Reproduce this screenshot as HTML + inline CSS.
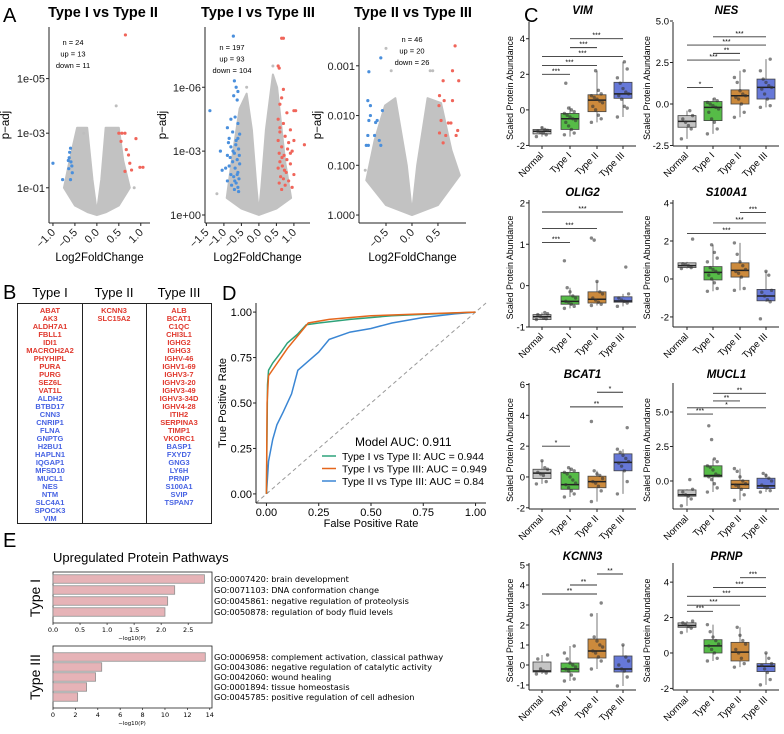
<!DOCTYPE html>
<html><head><meta charset="utf-8"><style>
html,body{margin:0;padding:0;background:#fff;}
svg{display:block;font-family:"Liberation Sans",sans-serif;}
</style></head><body>
<svg id="fig" xmlns="http://www.w3.org/2000/svg" width="784" height="734" viewBox="0 0 784 734">
<g id="panelA"></g>
<g id="panelB"></g>
<g id="panelC"></g>
<g id="panelD"></g>
<g id="panelE"></g>
</svg>
<script>
// ---------- DATA ----------
const volTitles = ["Type I vs Type II","Type I vs Type III","Type II vs Type III"];
const volCounts = [["n = 24","up = 13","down = 11"],["n = 197","up = 93","down = 104"],["n = 46","up = 20","down = 26"]];
const volXTicks = [[-1.0,-0.5,0.0,0.5,1.0],[-1.5,-1.0,-0.5,0.0,0.5,1.0],[-0.5,0.0,0.5]];
const volYTickVals = [[5,3,1],[6,3,0],[3,2,1,0]];
const volYTickLabels = [["1e-05","1e-03","1e-01"],["1e-06","1e-03","1e+00"],["0.001","0.010","0.100","1.000"]];
const volCloud1 = [[-0.75,1.0],[-0.62,2.0],[-0.45,3.2],[-0.22,3.2],[-0.1,1.3],[0,0.1],[0.1,1.3],[0.2,3.2],[0.5,3.2],[0.6,2.0],[0.75,1.0],[0.5,0.35],[0.2,0.1],[0,0],[-0.2,0.1],[-0.5,0.35]];
const volCloud2 = [[-0.92,0.8],[-0.78,2.5],[-0.55,5.0],[-0.35,5.7],[-0.2,4.0],[-0.07,1.3],[0,0.1],[0.07,1.3],[0.2,4.0],[0.4,6.6],[0.52,6.0],[0.75,2.5],[0.92,0.8],[0.5,0.3],[0,0],[-0.5,0.3]];
const volCloud3 = [[-0.88,0.7],[-0.72,1.5],[-0.52,2.2],[-0.32,2.35],[-0.1,1.0],[0,0.05],[0.1,1.0],[0.3,2.35],[0.56,2.25],[0.76,1.3],[0.92,0.8],[0.5,0.2],[0,0],[-0.5,0.2]];
const volGrey1 = [[0.44,4.0],[0.85,1.0],[-0.3,3.0]];
const volGrey2 = [[-0.35,6.0],[0.4,7.0],[-1.2,1.0]];
const volGrey3 = [[-0.5,3.35],[-0.4,2.9],[0.4,2.9],[0.35,2.9],[-0.9,0.9]];
const volBlue1 = [[-1.0,1.9],[-0.6,2.45],[-0.62,2.3],[-0.64,1.7],[-0.59,1.95],[-0.78,1.3],[-0.6,1.3],[-0.56,1.55],[-0.63,2.1],[-0.57,1.8],[-0.65,2.0]];
const volRed1 = [[0.65,6.6],[0.57,3.0],[0.64,3.0],[0.89,2.8],[0.67,2.4],[0.75,1.9],[0.64,1.6],[0.98,1.75],[1.05,1.75],[0.79,1.65],[0.55,2.7],[0.5,3.0],[0.72,2.2]];
const volBlue2 = [[-1.4,4.9],[-0.73,8.4],[-1.1,3.0],[-1.05,2.1],[-0.7,6.3],[-0.65,6.0],[-0.6,5.8],[-0.72,5.6],[-0.62,5.4],[-0.8,4.5],[-0.68,4.6],[-0.6,4.3],[-0.9,4.1],[-0.75,3.9],[-0.55,3.8],[-0.85,3.6],[-0.65,3.5],[-0.8,3.2],[-0.58,3.1],[-0.7,2.9],[-0.9,2.8],[-0.62,2.6],[-0.75,2.5],[-0.55,2.4],[-0.85,2.3],[-0.68,2.2],[-0.6,2.0],[-0.8,1.9],[-0.72,1.8],[-0.57,1.7],[-0.9,1.6],[-0.65,1.5],[-0.78,1.4],[-0.6,1.3],[-0.7,1.2],[-0.58,1.1],[-0.82,2.7],[-0.66,3.3],[-0.95,2.2],[-0.62,1.9],[-0.74,3.0],[-0.56,2.8],[-0.69,1.6],[-0.87,3.4],[-0.6,3.6]];
const volRed2 = [[0.7,8.3],[0.65,8.3],[0.55,7.0],[0.58,6.9],[1.3,3.3],[1.0,4.9],[1.05,4.9],[0.7,5.9],[0.65,5.5],[0.6,5.2],[0.8,4.8],[0.55,4.5],[0.7,4.3],[0.9,4.0],[0.6,3.9],[0.75,3.7],[0.55,3.5],[0.85,3.4],[0.65,3.2],[0.95,3.0],[0.58,2.9],[0.72,2.8],[0.8,2.6],[0.6,2.5],[0.9,2.4],[0.67,2.3],[0.55,2.2],[0.78,2.0],[1.0,1.9],[0.62,1.8],[0.7,1.7],[0.85,1.6],[0.58,1.5],[0.75,1.4],[0.95,1.3],[0.65,1.2],[1.0,3.5],[0.82,3.1],[0.6,4.1],[0.73,2.1],[0.9,2.9],[0.66,2.7]];
const volBlue3 = [[-0.6,3.16],[-0.83,2.88],[-0.85,2.3],[-0.8,2.0],[-0.7,1.86],[-0.85,1.6],[-0.88,1.4],[-0.6,1.4],[-0.57,2.1],[-0.83,1.9],[-0.72,1.6],[-0.63,1.5],[-0.8,2.2],[-0.67,1.9],[-0.84,1.4]];
const volRed3 = [[0.83,3.4],[0.78,2.9],[0.9,2.7],[0.6,2.7],[0.53,2.4],[0.78,2.3],[0.62,2.3],[0.52,2.2],[0.56,1.9],[0.7,1.85],[0.75,1.85],[0.88,1.7],[0.53,1.65],[0.65,1.6],[0.85,1.6],[0.6,1.45]];

const bHeaders = ["Type I","Type II","Type III"];
const bUp = [["ABAT","AK3","ALDH7A1","FBLL1","IDI1","MACROH2A2","PHYHIPL","PURA","PURG","SEZ6L","VAT1L"],["KCNN3","SLC15A2"],["ALB","BCAT1","C1QC","CHI3L1","IGHG2","IGHG3","IGHV-46","IGHV1-69","IGHV3-7","IGHV3-20","IGHV3-49","IGHV3-34D","IGHV4-28","ITIH2","SERPINA3","TIMP1","VKORC1"]];
const bDown = [["ALDH2","BTBD17","CNN3","CNRIP1","FLNA","GNPTG","H2BU1","HAPLN1","IQGAP1","MFSD10","MUCL1","NES","NTM","SLC4A1","SPOCK3","VIM"],[],["BASP1","FXYD7","GNG3","LY6H","PRNP","S100A1","SVIP","TSPAN7"]];

const cGroups = ["Normal","Type I","Type II","Type III"];
const cGenes = ["VIM","NES","OLIG2","S100A1","BCAT1","MUCL1","KCNN3","PRNP"];
const cDomains = [[-2.03,4.94],[-2.53,4.94],[-1.0,2.07],[-2.53,4.16],[-2.08,6.1],[-2.03,7.1],[-1.25,5.1],[-2.09,5.08]];
const cTicks = [[-2,0,2,4],[-2.5,0,2.5,5],[-1,0,1,2],[-2,0,2,4],[-2,0,2,4,6],[0,2.5,5],[-1,0,1,2,3,4,5],[-2,0,2,4]];
const cTickLabels = [["-2","0","2","4"],["-2.5","0.0","2.5","5.0"],["-1","0","1","2"],["-2","0","2","4"],["-2","0","2","4","6"],["0.0","2.5","5.0"],["-1","0","1","2","3","4","5"],["-2","0","2","4"]];
const cBoxes = [
 [[-1.35,-1.2,-1.1,-1.5,-0.95],[-1.1,-0.5,-0.2,-1.5,0.2],[-0.1,0.55,0.85,-0.7,2.2],[0.65,0.9,1.55,-0.4,2.7]],
 [[-1.4,-1.05,-0.7,-2.1,-0.4],[-1.0,-0.2,0.15,-1.8,0.35],[0.0,0.5,0.85,-0.8,2.0],[0.3,1.0,1.5,-0.2,2.7]],
 [[-0.82,-0.75,-0.7,-0.82,-0.65],[-0.45,-0.38,-0.25,-0.55,-0.05],[-0.42,-0.33,-0.15,-0.48,0.1],[-0.4,-0.37,-0.27,-0.5,-0.2]],
 [[0.6,0.7,0.85,0.55,0.9],[-0.05,0.35,0.65,-0.65,1.8],[0.1,0.45,0.85,-0.6,1.9],[-1.15,-0.9,-0.55,-1.2,0.4]],
 [[-0.1,0.25,0.5,-0.45,1.05],[-0.8,-0.5,0.3,-1.3,0.6],[-0.7,-0.3,0.05,-1.6,0.4],[0.4,0.95,1.5,-1.1,1.8]],
 [[-1.1,-1.0,-0.65,-1.8,-0.6],[0.3,0.4,1.1,-0.8,1.6],[-0.55,-0.25,0.05,-1.4,0.9],[-0.55,-0.35,0.2,-0.8,0.55]],
 [[-0.35,-0.3,0.15,-0.45,0.5],[-0.35,-0.2,0.1,-0.8,0.95],[0.35,0.7,1.3,-0.2,2.6],[-0.35,-0.2,0.45,-1.05,1.0]],
 [[1.45,1.55,1.7,1.15,1.8],[0.0,0.4,0.75,-0.45,1.6],[-0.45,0.05,0.6,-0.8,1.45],[-1.05,-0.75,-0.6,-1.8,0.0]]
];
const cPoints = [
 [[-1.5,-1.4,-1.3,-1.25,-1.2,-1.15,-1.1,-1.0],[-1.4,-1.3,-1.1,-0.9,-0.7,-0.6,-0.5,-0.4,-0.3,-0.2,-0.1,0.0,0.1,1.5],[-0.7,-0.5,-0.3,0,0.2,0.4,0.5,0.6,0.7,0.8,0.9,1.1,2.2],[-0.4,0.1,0.2,0.6,0.8,0.9,1.0,1.2,1.5,1.8,2.3,2.7]],
 [[-2.1,-1.5,-1.3,-1.1,-0.9,-0.7,-0.4],[-1.8,-1.5,-1.1,-0.9,-0.5,-0.3,-0.2,-0.1,0.0,0.1,0.2,0.3],[-0.8,-0.5,0,0.3,0.4,0.5,0.6,0.8,1.3,1.6,2.0],[-0.2,-0.1,0.3,0.6,0.9,1.0,1.1,1.3,1.5,2.0,2.7]],
 [[-0.82,-0.8,-0.78,-0.75,-0.7,-0.68,-0.65],[-0.55,-0.5,-0.45,-0.4,-0.38,-0.3,-0.25,-0.15,-0.05,0.6],[-0.48,-0.45,-0.4,-0.35,-0.3,-0.2,-0.15,0.1,1.1,1.15],[-0.5,-0.42,-0.38,-0.35,-0.3,-0.2,0.45]],
 [[0.55,0.6,0.7,0.75,0.8,2.1],[-0.65,-0.5,-0.2,0,0.2,0.3,0.4,0.5,0.6,0.9,1.1,1.4,1.8],[-0.6,-0.5,0.1,0.3,0.4,0.5,0.7,0.9,1.3,1.9],[-2.1,-1.2,-1.1,-0.9,-0.7,-0.6,0.2,0.4]],
 [[-0.45,-0.3,0.1,0.2,0.3,0.5,0.6,1.05],[-1.3,-1.1,-0.9,-0.7,-0.5,-0.4,-0.2,0,0.2,0.3,0.4,0.5,0.6],[-1.6,-0.9,-0.6,-0.4,-0.3,-0.1,0.1,0.2,0.4,3.6],[-1.1,-0.3,0.4,0.7,0.9,1.0,1.2,1.4,1.6,1.8,3.2]],
 [[-1.8,-1.3,-1.1,-1.0,-0.8,-0.6,0.1],[-0.8,-0.5,-0.2,0.1,0.3,0.4,0.5,0.8,1.0,1.1,1.4,1.6,3.0,4.0],[-1.4,-1.0,-0.6,-0.4,-0.3,-0.2,0.0,0.3,0.7,0.9],[-0.8,-0.7,-0.5,-0.4,-0.3,0.0,0.2,0.4,0.55]],
 [[-0.45,-0.4,-0.3,-0.2,0.3,0.5],[-0.8,-0.7,-0.5,-0.3,-0.2,-0.1,0,0.1,0.3,0.6,0.95],[-0.2,0.2,0.4,0.6,0.7,0.9,1.0,1.2,1.4,2.5,3.1],[-1.05,-0.6,-0.3,-0.2,0,0.2,0.4,1.0]],
 [[1.15,1.4,1.5,1.6,1.7,1.8],[-0.45,-0.3,0,0.2,0.4,0.5,0.7,0.9,1.2,1.6],[-0.8,-0.6,-0.3,0,0.2,0.5,0.7,1.0,1.45],[-1.8,-1.5,-1.1,-0.9,-0.7,-0.6,-0.3,0]]
];
const cSig = [
 [[0,1,2.0,"***"],[0,2,2.5,"***"],[0,3,3.0,"***"],[1,2,3.5,"***"],[1,3,4.0,"***"]],
 [[0,1,1.0,"*"],[0,2,2.65,"***"],[1,2,3.05,"**"],[0,3,3.55,"***"],[1,3,4.05,"***"]],
 [[0,1,1.04,"***"],[0,2,1.38,"***"],[0,3,1.78,"***"]],
 [[0,3,2.4,"***"],[1,3,2.95,"***"],[2,3,3.5,"***"]],
 [[0,1,2.0,"*"],[1,3,4.55,"**"],[2,3,5.5,"*"]],
 [[0,1,4.85,"***"],[0,3,5.3,"*"],[1,2,5.8,"**"],[1,3,6.35,"**"]],
 [[0,2,3.55,"**"],[1,2,4.0,"**"],[2,3,4.55,"**"]],
 [[0,1,2.35,"***"],[0,2,2.7,"***"],[0,3,3.2,"***"],[1,3,3.7,"***"],[2,3,4.25,"***"]]
];

const rocNames = ["Type I vs Type II: AUC = 0.944","Type I vs Type III: AUC = 0.949","Type II vs Type III: AUC = 0.84"];
const rocTicks = [0,0.25,0.5,0.75,1.0];
const rocTickLabels = ["0.00","0.25","0.50","0.75","1.00"];
const rocFpr1 = [0,0.005,0.01,0.03,0.07,0.1,0.15,0.19,0.25,0.4,0.6,0.8,1];
const rocTpr1 = [0,0.6,0.68,0.72,0.78,0.83,0.88,0.93,0.94,0.96,0.98,0.99,1];
const rocFpr2 = [0,0.003,0.01,0.04,0.07,0.1,0.15,0.2,0.3,0.5,0.75,1];
const rocTpr2 = [0,0.5,0.65,0.7,0.75,0.8,0.87,0.94,0.96,0.98,0.99,1];
const rocFpr3 = [0,0.01,0.03,0.05,0.08,0.12,0.15,0.2,0.25,0.3,0.4,0.5,0.6,0.75,0.9,1];
const rocTpr3 = [0,0.18,0.3,0.38,0.45,0.55,0.68,0.73,0.78,0.85,0.89,0.91,0.94,0.97,0.99,1];

const eLabels1 = ["GO:0007420: brain development","GO:0071103: DNA conformation change","GO:0045861: negative regulation of proteolysis","GO:0050878: regulation of body fluid levels"];
const eValues1 = [2.8,2.25,2.12,2.07];
const eTicks1 = [0,0.5,1.0,1.5,2.0,2.5];
const eTickLabels1 = ["0.0","0.5","1.0","1.5","2.0","2.5"];
const eLabels2 = ["GO:0006958: complement activation, classical pathway","GO:0043086: negative regulation of catalytic activity","GO:0042060: wound healing","GO:0001894: tissue homeostasis","GO:0045785: positive regulation of cell adhesion"];
const eValues2 = [13.6,4.35,3.8,3.0,2.2];
const eTicks2 = [0,2,4,6,8,10,12,14];

// ---------- HELPERS ----------
const NS = "http://www.w3.org/2000/svg";
function el(tag, attrs, parent){ const e=document.createElementNS(NS,tag); for(const k in attrs) e.setAttribute(k,attrs[k]); parent.appendChild(e); return e; }
function txt(s, attrs, parent){ const e=el("text",attrs,parent); e.textContent=s; return e; }
function lin(d0,d1,r0,r1){ return v => r0+(v-d0)/(d1-d0)*(r1-r0); }
const fig = document.getElementById("fig");

[["A",3,22],["B",3,299],["C",524,22],["D",222,300],["E",3,547]].forEach(p=>{
  const t = txt(p[0],{x:p[1],y:p[2],"font-size":20,fill:"#000"},fig);
  
  
});

// ---------- PANEL A ----------
const pA = document.getElementById("panelA");
const volLayouts = [
 {ax:49,right:150,xd:[-1.09,1.21],yd:[-0.29,6.89],tc:103,ac:73,ay:41,yl:9},
 {ax:205,right:310,xd:[-1.54,1.46],yd:[-0.376,8.83],tc:258,ac:232,ay:46,yl:166},
 {ax:359,right:466,xd:[-1.02,1.04],yd:[-0.16,3.78],tc:413,ac:412,ay:38,yl:321}
];
const volClouds=[volCloud1,volCloud2,volCloud3];
const volGreys=[volGrey1,volGrey2,volGrey3];
const volBlues=[volBlue1,volBlue2,volBlue3];
const volReds=[volRed1,volRed2,volRed3];
volLayouts.forEach((L,i)=>{
  const g = el("g",{},pA);
  
  
  const X = lin(L.xd[0],L.xd[1],L.ax,L.right), Y = lin(L.yd[0],L.yd[1],223,27);
  const tt = txt(volTitles[i],{x:L.tc,y:17,"font-size":14.5,"font-weight":"bold","text-anchor":"middle"},g);
  
  
  const cloud = el("polygon",{points:volClouds[i].map(p=>X(p[0])+","+Y(p[1])).join(" "),fill:"#c2c2c2",stroke:"#c2c2c2","stroke-width":2,"stroke-linejoin":"round"},g);
  
  
  volGreys[i].forEach(p=>{ el("circle",{cx:X(p[0]),cy:Y(p[1]),r:1.5,fill:"#bebebe"},g); });
  volBlues[i].forEach(p=>{
    const c=el("circle",{cx:X(p[0]),cy:Y(p[1]),r:1.6,fill:"#4a8fdc"},g);
    
    
  });
  volReds[i].forEach(p=>{
    const c=el("circle",{cx:X(p[0]),cy:Y(p[1]),r:1.6,fill:"#f0655a"},g);
    
    
  });
  el("line",{x1:L.ax,y1:27,x2:L.ax,y2:223,stroke:"#222","stroke-width":1},g);
  el("line",{x1:L.ax,y1:223,x2:L.right,y2:223,stroke:"#222","stroke-width":1},g);
  volXTicks[i].forEach(v=>{
    const x=X(v);
    el("line",{x1:x,y1:223,x2:x,y2:226,stroke:"#222"},g);
    const t=txt(v.toFixed(1).replace("-","\u2212"),{x:x+3,y:233,"font-size":11,"text-anchor":"end",transform:`rotate(-45 ${x+3} 233)`,fill:"#222"},g);
    
    
  });
  volYTickVals[i].forEach((v,k)=>{
    const y=Y(v);
    el("line",{x1:L.ax-3,y1:y,x2:L.ax,y2:y,stroke:"#222"},g);
    const t=txt(volYTickLabels[i][k],{x:L.ax-4,y:y+4,"font-size":11,"text-anchor":"end",fill:"#222"},g);
    
    
  });
  const yl=txt("p\u2212adj",{x:L.yl,y:125,"font-size":11.5,"text-anchor":"middle",transform:`rotate(-90 ${L.yl} 125)`},g);
  
  
  const xl=txt("Log2FoldChange",{x:(L.ax+L.right)/2,y:261,"font-size":11.5,"text-anchor":"middle"},g);
  
  
  volCounts[i].forEach((s,k)=>{
    const t=txt(s,{x:L.ac,y:L.ay+4+k*11.5,"font-size":7.5,"text-anchor":"middle"},g);
    
    
  });
});

// ---------- PANEL B ----------
const pB = document.getElementById("panelB");
el("rect",{x:17.5,y:303.5,width:194,height:220,fill:"none",stroke:"#222","stroke-width":1},pB);
el("line",{x1:82.5,y1:303.5,x2:82.5,y2:523.5,stroke:"#222"},pB);
el("line",{x1:146.5,y1:303.5,x2:146.5,y2:523.5,stroke:"#222"},pB);
const bCols=[50,114,179];
bHeaders.forEach((h,i)=>{
  const t=txt(h,{x:bCols[i],y:297,"font-size":13,"text-anchor":"middle"},pB);
  
  
  const all=bUp[i].map(s=>[s,"#e0392e"]).concat(bDown[i].map(s=>[s,"#4763e3"]));
  all.forEach((p,k)=>{
    const g=txt(p[0],{x:bCols[i],y:313+k*8.0,"font-size":7.5,"font-weight":"bold","text-anchor":"middle",fill:p[1]},pB);
    
    
  });
});

// ---------- PANEL C ----------
const pC = document.getElementById("panelC");
const groupFill=["#c4c4c4","#56bc47","#cc8a3c","#6678d8"];
const colLayout=[{ax:529,cats:[542,570,597,623],right:636,yl:513},{ax:673,cats:[687,713,740,766],right:779,yl:650}];
const rowLayout=[{top:22,bot:146,title:16},{top:200,bot:327,title:198},{top:383,bot:509,title:380},{top:563,bot:690,title:562}];
cGenes.forEach((gene,gi)=>{
  const C=colLayout[gi%2], R=rowLayout[Math.floor(gi/2)];
  const g=el("g",{},pC);
  
  
  const Y=lin(cDomains[gi][0],cDomains[gi][1],R.bot,R.top);
  const t=txt(gene,{x:(C.cats[0]+C.cats[3])/2,y:R.title-2,"font-size":11.5,"font-weight":"bold","font-style":"italic","text-anchor":"middle"},g);
  
  
  cTicks[gi].forEach((v,k)=>{
    const y=Y(v);
    el("line",{x1:C.ax-3,y1:y,x2:C.ax,y2:y,stroke:"#222"},g);
    const tl=txt(cTickLabels[gi][k],{x:C.ax-4,y:y+3.5,"font-size":9.5,"text-anchor":"end"},g);
    
    
  });
  const cy=(R.top+R.bot)/2+4;
  const yl=txt("Scaled Protein Abundance",{x:C.yl,y:cy,"font-size":8.8,"text-anchor":"middle",transform:`rotate(-90 ${C.yl} ${cy})`},g);
  
  
  cBoxes[gi].forEach((b,k)=>{
    const x=C.cats[k], w=18;
    el("line",{x1:x,y1:Y(b[3]),x2:x,y2:Y(b[4]),stroke:"#555","stroke-width":0.8},g);
    const r=el("rect",{x:x-w/2,y:Y(b[2]),width:w,height:Math.max(1,Y(b[0])-Y(b[2])),fill:groupFill[k],stroke:"#444","stroke-width":0.8},g);
    
    
    el("line",{x1:x-w/2,y1:Y(b[1]),x2:x+w/2,y2:Y(b[1]),stroke:"#222","stroke-width":1.5},g);
    cPoints[gi][k].forEach((v,j)=>{
      const jit=((j*7)%9-4)*1.4;
      const p=el("circle",{cx:x+jit,cy:Y(v),r:1.7,fill:"#333","fill-opacity":0.6},g);
      
      
    });
  });
  cSig[gi].forEach(s=>{
    const y=Y(s[2]);
    el("line",{x1:C.cats[s[0]],y1:y,x2:C.cats[s[1]],y2:y,stroke:"#333","stroke-width":0.9},g);
    txt(s[3],{x:(C.cats[s[0]]+C.cats[s[1]])/2,y:y-1,"font-size":7,"text-anchor":"middle"},g);
  });
  el("line",{x1:C.ax,y1:R.top,x2:C.ax,y2:R.bot,stroke:"#222"},g);
  el("line",{x1:C.ax,y1:R.bot,x2:C.right,y2:R.bot,stroke:"#222"},g);
  cGroups.forEach((n,k)=>{
    const x=C.cats[k];
    el("line",{x1:x,y1:R.bot,x2:x,y2:R.bot+3,stroke:"#222"},g);
    const tl=txt(n,{x:x+2,y:R.bot+10,"font-size":9.5,"text-anchor":"end",transform:`rotate(-45 ${x+2} ${R.bot+10})`},g);
    
    
  });
});

// ---------- PANEL D ----------
const pD=document.getElementById("panelD");
const DX=lin(-0.05,1.05,256,486), DY=lin(-0.05,1.05,503,303);
el("line",{x1:DX(-0.05),y1:DY(-0.05),x2:DX(1.05),y2:DY(1.05),stroke:"#999","stroke-dasharray":"4,3","stroke-width":1},pD);
const rocF=[rocFpr1,rocFpr2,rocFpr3], rocT=[rocTpr1,rocTpr2,rocTpr3], rocC=["#2ea27a","#e5661c","#3a86d4"];
[2,0,1].forEach(i=>{
  const path=el("polyline",{points:rocF[i].map((f,k)=>DX(f)+","+DY(rocT[i][k])).join(" "),fill:"none",stroke:rocC[i],"stroke-width":1.5},pD);
  
  
});
el("line",{x1:256,y1:303,x2:256,y2:503,stroke:"#222"},pD);
el("line",{x1:256,y1:503,x2:486,y2:503,stroke:"#222"},pD);
rocTicks.forEach((v,k)=>{
  el("line",{x1:DX(v),y1:503,x2:DX(v),y2:506,stroke:"#222"},pD);
  const a=txt(rocTickLabels[k],{x:DX(v),y:516,"font-size":11,"text-anchor":"middle"},pD);
  
  
  el("line",{x1:253,y1:DY(v),x2:256,y2:DY(v),stroke:"#222"},pD);
  const b=txt(rocTickLabels[k],{x:252,y:DY(v)+4,"font-size":11,"text-anchor":"end"},pD);
  
  
});
const dxl=txt("False Positive Rate",{x:371,y:527,"font-size":11,"text-anchor":"middle"},pD);


const dyl=txt("True Positive Rate",{x:226,y:403,"font-size":11,"text-anchor":"middle",transform:"rotate(-90 226 403)"},pD);


const auc=txt("Model AUC: 0.911",{x:355,y:446,"font-size":12},pD);


rocNames.forEach((n,i)=>{
  const y=456+i*12.5;
  el("line",{x1:322,y1:y,x2:336,y2:y,stroke:rocC[i],"stroke-width":1.5},pD);
  const t=txt(n,{x:342,y:y+4,"font-size":10.5},pD);
  
  
});

// ---------- PANEL E ----------
const pE=document.getElementById("panelE");
const et=txt("Upregulated Protein Pathways",{x:53,y:562,"font-size":13},pE);


function barPanel(labels, values, ticks, tickLabels, dmax, top, bot, y0, step, h, name){
  const g=el("g",{},pE);
  
  
  const X=lin(0,dmax,53,212);
  el("rect",{x:53,y:top,width:159,height:bot-top,fill:"none",stroke:"#222","stroke-width":0.8},g);
  values.forEach((v,k)=>{
    const y=y0+k*step;
    const b=el("rect",{x:53,y:y-h/2,width:X(v)-53,height:h,fill:"#e6b3b7",stroke:"#8f8f8f","stroke-width":0.8},g);
    
    
    const t=txt(labels[k],{x:214,y:y+3,"font-size":8.2,"font-family":"DejaVu Sans, sans-serif"},g);
    
    
  });
  ticks.forEach((v,k)=>{
    el("line",{x1:X(v),y1:bot,x2:X(v),y2:bot+2,stroke:"#222","stroke-width":0.7},g);
    txt(tickLabels[k],{x:X(v),y:bot+9,"font-size":6.5,"text-anchor":"middle","font-family":"DejaVu Sans, sans-serif"},g);
  });
  txt("\u2212log10(P)",{x:132,y:bot+17,"font-size":5.5,"text-anchor":"middle","font-family":"DejaVu Sans, sans-serif"},g);
}
barPanel(eLabels1,eValues1,eTicks1,eTickLabels1,2.94,572,623,579,11,8.5,"type-i-pathways");
barPanel(eLabels2,eValues2,eTicks2,eTicks2.map(String),14.2,646,708,657,10,8.5,"type-iii-pathways");
const r1=txt("Type I",{x:40,y:598,"font-size":14,"text-anchor":"middle",transform:"rotate(-90 40 598)"},pE);


const r3=txt("Type III",{x:40,y:677,"font-size":14,"text-anchor":"middle",transform:"rotate(-90 40 677)"},pE);


</script>
</body></html>
